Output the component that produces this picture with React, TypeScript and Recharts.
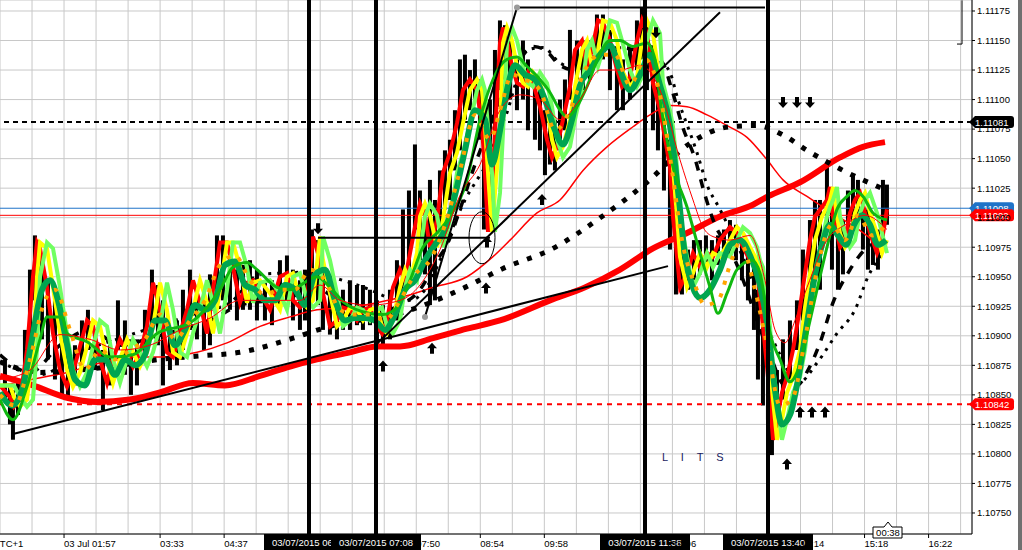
import React from 'react';
import {
  ComposedChart,
  XAxis,
  YAxis,
  CartesianGrid,
  Line,
  Bar,
  ReferenceLine,
  ReferenceDot,
} from 'recharts';

const FONT = '"Liberation Sans", Arial, sans-serif';
const W = 1022;
const H = 550;

// ---- price scale -------------------------------------------------------
const priceMin = 1.107322;
const priceMax = 1.111843;
const priceTicks = [
  1.1075, 1.10775, 1.108, 1.10825, 1.1085, 1.10875, 1.109, 1.10925, 1.1095,
  1.10975, 1.11, 1.11025, 1.1105, 1.11075, 1.111, 1.11125, 1.1115, 1.11175,
];

// ---- bar index scale (one bar per pixel column) ------------------------
const barMin = 0;
const barMax = 972;
const gridStep = 32.02;
const gridCount = 30;
const timeCols = [2, 5, 7, 13, 15, 17, 21, 25, 27, 29];
const timeText = [
  '03 Jul 01:57', '03:33', '04:37', '07:50', '08:54', '09:58', '12:06', '14:14', '15:18', '16:22',
];

// ---- session separators -------------------------------------------------
const sessionBars = [309, 376, 645, 768];
const sessionText = [
  '03/07/2015 06:02', '03/07/2015 07:08', '03/07/2015 11:38', '03/07/2015 13:40',
];

// ---- horizontal levels --------------------------------------------------
const resistance = 1.11081;
const support = 1.10842;
const askPrice = 1.11008;
const bidPrice = 1.11002;

// ---- price bars: [bar, low, high] --------------------------------------
const priceBars: [number, number, number][] = [
  [5, 1.10846, 1.1088], [10, 1.10825, 1.10858], [13, 1.10812, 1.10854], [18, 1.10833, 1.10863],
  [25, 1.10854, 1.10905], [30, 1.10888, 1.10956], [35, 1.1093, 1.10985], [38, 1.10913, 1.10981],
  [42, 1.10897, 1.10964], [48, 1.1088, 1.10947], [55, 1.10863, 1.1093], [62, 1.1085, 1.10897],
  [68, 1.10846, 1.10884], [75, 1.10858, 1.10892], [82, 1.10871, 1.10913], [88, 1.10888, 1.10922],
  [95, 1.10871, 1.10905], [103, 1.10837, 1.10888], [110, 1.10858, 1.10892], [118, 1.10888, 1.1093],
  [125, 1.10867, 1.10913], [131, 1.1085, 1.10897], [137, 1.10858, 1.10897], [145, 1.10884, 1.10922],
  [152, 1.10905, 1.10956], [158, 1.10892, 1.10943], [163, 1.10858, 1.1093], [170, 1.10871, 1.10905],
  [177, 1.10875, 1.10913], [183, 1.10888, 1.10939], [190, 1.10905, 1.10956], [197, 1.10897, 1.10939],
  [204, 1.10888, 1.1093], [210, 1.10892, 1.10952], [217, 1.10939, 1.10985], [223, 1.1093, 1.10985],
  [230, 1.10922, 1.10973], [237, 1.10913, 1.10956], [243, 1.10922, 1.1096], [250, 1.10922, 1.10964],
  [257, 1.10913, 1.10956], [265, 1.10913, 1.10947], [272, 1.10909, 1.10947], [280, 1.10922, 1.10964],
  [287, 1.1093, 1.10968], [293, 1.10913, 1.10956], [300, 1.10905, 1.10947], [305, 1.10913, 1.10956],
  [312, 1.10939, 1.1099], [318, 1.10926, 1.10981], [323, 1.10905, 1.10964], [330, 1.10901, 1.10939],
  [337, 1.10897, 1.1093], [343, 1.10905, 1.10939], [350, 1.10905, 1.10947], [357, 1.10909, 1.10943],
  [363, 1.10905, 1.10943], [370, 1.10909, 1.10939], [377, 1.10892, 1.1093], [383, 1.10892, 1.10926],
  [390, 1.10897, 1.10939], [397, 1.10913, 1.10964], [403, 1.1093, 1.11007], [409, 1.10947, 1.11023],
  [415, 1.1099, 1.11062], [420, 1.10964, 1.11023], [425, 1.10952, 1.11011], [430, 1.10926, 1.11032],
  [435, 1.1093, 1.11015], [440, 1.10981, 1.1104], [445, 1.11007, 1.11057], [450, 1.11015, 1.11066],
  [455, 1.1104, 1.11091], [460, 1.11057, 1.11134], [465, 1.11083, 1.11138], [470, 1.11091, 1.11125],
  [475, 1.111, 1.11134], [480, 1.11066, 1.11117], [484, 1.1099, 1.11091], [490, 1.11015, 1.111],
  [495, 1.11066, 1.11142], [500, 1.11108, 1.11167], [505, 1.11117, 1.11163], [510, 1.111, 1.1115],
  [517, 1.11091, 1.11134], [523, 1.111, 1.1115], [528, 1.11074, 1.11134], [535, 1.11066, 1.11117],
  [540, 1.11057, 1.11108], [545, 1.11036, 1.11091], [550, 1.11045, 1.11083], [555, 1.1104, 1.11083],
  [560, 1.11057, 1.111], [565, 1.11074, 1.11117], [570, 1.111, 1.11159], [577, 1.11117, 1.1115],
  [583, 1.11108, 1.1115], [590, 1.11117, 1.1115], [597, 1.11134, 1.11172], [603, 1.11134, 1.11172],
  [610, 1.11108, 1.11159], [617, 1.11091, 1.11142], [623, 1.11091, 1.11134], [630, 1.111, 1.11142],
  [637, 1.11125, 1.11167], [642, 1.11134, 1.11178], [647, 1.11108, 1.11167], [653, 1.11074, 1.11146],
  [658, 1.11057, 1.11125], [664, 1.11023, 1.111], [670, 1.10973, 1.11066], [676, 1.10935, 1.11015],
  [682, 1.10935, 1.10973], [688, 1.10939, 1.10973], [694, 1.10947, 1.10981], [700, 1.10952, 1.10981],
  [706, 1.10956, 1.10985], [712, 1.10947, 1.10981], [718, 1.1096, 1.10985], [724, 1.10964, 1.1099],
  [730, 1.10968, 1.10998], [736, 1.10964, 1.10994], [742, 1.10947, 1.10981], [748, 1.1093, 1.10973],
  [754, 1.10905, 1.10964], [758, 1.10863, 1.10939], [763, 1.10841, 1.10913], [768, 1.10829, 1.1088],
  [772, 1.10799, 1.10863], [777, 1.10812, 1.10871], [783, 1.10846, 1.10897], [790, 1.10863, 1.10913],
  [797, 1.10888, 1.1093], [803, 1.10913, 1.10973], [810, 1.10939, 1.10998], [815, 1.10947, 1.11015],
  [820, 1.10939, 1.11015], [827, 1.1099, 1.11045], [832, 1.10956, 1.11023], [838, 1.10939, 1.10998],
  [843, 1.10952, 1.10998], [848, 1.10981, 1.11023], [853, 1.1099, 1.11036], [858, 1.10998, 1.11032],
  [863, 1.10973, 1.11015], [868, 1.10956, 1.11007], [873, 1.1096, 1.10998], [878, 1.10956, 1.1099],
  [883, 1.10973, 1.11032], [887, 1.10994, 1.11028],
];

// ---- fast averages (shared bar positions) -------------------------------
const fastX = [
  0, 10, 14, 20, 27, 33, 37, 40, 47, 53, 60, 67, 73, 80, 87, 93, 100, 107, 113, 120,
  127, 133, 140, 147, 153, 160, 167, 173, 180, 187, 193, 200, 207, 213, 220, 227, 233, 240, 247, 253,
  260, 270, 280, 287, 293, 300, 307, 313, 320, 323, 330, 337, 343, 350, 357, 363, 370, 377, 382, 387,
  393, 400, 405, 410, 417, 420, 425, 430, 437, 443, 450, 457, 463, 470, 477, 482, 485, 488, 492, 495,
  500, 503, 507, 512, 517, 523, 528, 533, 540, 547, 552, 557, 563, 570, 575, 582, 587, 592, 598, 603,
  610, 617, 622, 630, 637, 642, 647, 653, 660, 663, 670, 673, 677, 680, 687, 693, 700, 707, 713, 720,
  730, 737, 743, 750, 757, 760, 763, 767, 770, 773, 777, 782, 787, 793, 800, 805, 810, 815, 822, 827,
  830, 833, 837, 840, 845, 850, 855, 860, 865, 870, 877, 882, 887,
];
const redFast = [
  1.10858, 1.10848, 1.1084, 1.10846, 1.10888, 1.1095, 1.10979, 1.10974, 1.10941, 1.10902,
  1.10871, 1.10857, 1.10869, 1.10891, 1.10913, 1.10908, 1.1088, 1.1086, 1.1088, 1.10897,
  1.10886, 1.10874, 1.10886, 1.10908, 1.10945, 1.10922, 1.10886, 1.10882, 1.10902, 1.10922,
  1.10947, 1.10928, 1.10902, 1.10939, 1.10979, 1.10979, 1.10958, 1.10928, 1.10945, 1.10947,
  1.10936, 1.10922, 1.1095, 1.10953, 1.1093, 1.10924, 1.1093, 1.10984, 1.10964, 1.10936,
  1.10908, 1.10913, 1.10924, 1.10922, 1.10913, 1.10922, 1.10924, 1.10908, 1.10902, 1.10913,
  1.10941, 1.10956, 1.10947, 1.1097, 1.11001, 1.11012, 1.11002, 1.10975, 1.10998, 1.11038,
  1.11055, 1.1108, 1.11108, 1.11117, 1.11108, 1.11077, 1.11038, 1.10988, 1.11021, 1.11072,
  1.11148, 1.11161, 1.1115, 1.11128, 1.11114, 1.11111, 1.11123, 1.11114, 1.11094, 1.11066,
  1.11051, 1.1106, 1.11083, 1.11111, 1.11142, 1.1115, 1.11128, 1.11142, 1.11167, 1.11165,
  1.1115, 1.11125, 1.11111, 1.11119, 1.1115, 1.11167, 1.11156, 1.11114, 1.11091, 1.11077,
  1.11043, 1.11001, 1.10967, 1.10941, 1.10953, 1.1097, 1.10958, 1.1097, 1.10967, 1.10981,
  1.10992, 1.10987, 1.10975, 1.10964, 1.10958, 1.1093, 1.10908, 1.10874, 1.10846, 1.10812,
  1.10829, 1.10852, 1.10865, 1.10888, 1.10924, 1.10953, 1.10981, 1.11001, 1.11009, 1.11015,
  1.11026, 1.11001, 1.10987, 1.10975, 1.10981, 1.11004, 1.11015, 1.11021, 1.11004, 1.10987,
  1.1097, 1.10981, 1.11007,
];
const yellowFast = [
  1.10858, 1.10858, 1.10848, 1.1084, 1.10846, 1.10888, 1.1095, 1.10979, 1.10974, 1.10941,
  1.10902, 1.10871, 1.10857, 1.10869, 1.10891, 1.10913, 1.10908, 1.1088, 1.1086, 1.1088,
  1.10897, 1.10886, 1.10874, 1.10886, 1.10908, 1.10945, 1.10922, 1.10886, 1.10882, 1.10902,
  1.10922, 1.10947, 1.10928, 1.10902, 1.10939, 1.10979, 1.10979, 1.10958, 1.10928, 1.10945,
  1.10947, 1.10936, 1.10922, 1.1095, 1.10953, 1.1093, 1.10924, 1.1093, 1.10984, 1.10964,
  1.10936, 1.10908, 1.10913, 1.10924, 1.10922, 1.10913, 1.10922, 1.10924, 1.10908, 1.10902,
  1.10913, 1.10941, 1.10956, 1.10947, 1.1097, 1.11001, 1.11012, 1.11002, 1.10975, 1.10998,
  1.11038, 1.11055, 1.1108, 1.11108, 1.11117, 1.11108, 1.11077, 1.11038, 1.10988, 1.11021,
  1.11072, 1.11148, 1.11161, 1.1115, 1.11128, 1.11114, 1.11111, 1.11123, 1.11114, 1.11094,
  1.11066, 1.11051, 1.1106, 1.11083, 1.11111, 1.11142, 1.1115, 1.11128, 1.11142, 1.11167,
  1.11165, 1.1115, 1.11125, 1.11111, 1.11119, 1.1115, 1.11167, 1.11156, 1.11114, 1.11091,
  1.11077, 1.11043, 1.11001, 1.10967, 1.10941, 1.10953, 1.1097, 1.10958, 1.1097, 1.10967,
  1.10981, 1.10992, 1.10987, 1.10975, 1.10964, 1.10958, 1.1093, 1.10908, 1.10874, 1.10846,
  1.10812, 1.10829, 1.10852, 1.10865, 1.10888, 1.10924, 1.10953, 1.10981, 1.11001, 1.11009,
  1.11015, 1.11026, 1.11001, 1.10987, 1.10975, 1.10981, 1.11004, 1.11015, 1.11021, 1.11004,
  1.10987, 1.1097, 1.10981,
];
const limeFast = [
  1.10858, 1.10858, 1.10858, 1.10848, 1.1084, 1.10846, 1.10888, 1.1095, 1.10979, 1.10974,
  1.10941, 1.10902, 1.10871, 1.10857, 1.10869, 1.10891, 1.10913, 1.10908, 1.1088, 1.1086,
  1.1088, 1.10897, 1.10886, 1.10874, 1.10886, 1.10908, 1.10945, 1.10922, 1.10886, 1.10882,
  1.10902, 1.10922, 1.10947, 1.10928, 1.10902, 1.10939, 1.10979, 1.10979, 1.10958, 1.10928,
  1.10945, 1.10947, 1.10936, 1.10922, 1.1095, 1.10953, 1.1093, 1.10924, 1.1093, 1.10984,
  1.10964, 1.10936, 1.10908, 1.10913, 1.10924, 1.10922, 1.10913, 1.10922, 1.10924, 1.10908,
  1.10902, 1.10913, 1.10941, 1.10956, 1.10947, 1.1097, 1.11001, 1.11012, 1.11002, 1.10975,
  1.10998, 1.11038, 1.11055, 1.1108, 1.11108, 1.11117, 1.11108, 1.11077, 1.11038, 1.10988,
  1.11021, 1.11072, 1.11148, 1.11161, 1.1115, 1.11128, 1.11114, 1.11111, 1.11123, 1.11114,
  1.11094, 1.11066, 1.11051, 1.1106, 1.11083, 1.11111, 1.11142, 1.1115, 1.11128, 1.11142,
  1.11167, 1.11165, 1.1115, 1.11125, 1.11111, 1.11119, 1.1115, 1.11167, 1.11156, 1.11114,
  1.11091, 1.11077, 1.11043, 1.11001, 1.10967, 1.10941, 1.10953, 1.1097, 1.10958, 1.1097,
  1.10967, 1.10981, 1.10992, 1.10987, 1.10975, 1.10964, 1.10958, 1.1093, 1.10908, 1.10874,
  1.10846, 1.10812, 1.10829, 1.10852, 1.10865, 1.10888, 1.10924, 1.10953, 1.10981, 1.11001,
  1.11009, 1.11015, 1.11026, 1.11001, 1.10987, 1.10975, 1.10981, 1.11004, 1.11015, 1.11021,
  1.11004, 1.10987, 1.1097,
];

// ---- slower averages: [bar, price] --------------------------------------
const tealMa: [number, number][] = [
  [0, 1.10852], [12, 1.10841], [22, 1.10854], [32, 1.10897], [42, 1.10939], [50, 1.10947],
  [58, 1.1093], [66, 1.10897], [75, 1.10863], [85, 1.10858], [95, 1.1088], [105, 1.1088],
  [115, 1.10867], [125, 1.1088], [135, 1.10875], [145, 1.10884], [155, 1.10913], [165, 1.10913],
  [175, 1.10892], [185, 1.10905], [195, 1.10926], [205, 1.10922], [215, 1.1093], [225, 1.1096],
  [235, 1.10963], [245, 1.10943], [255, 1.10939], [265, 1.1093], [275, 1.1093], [285, 1.10943],
  [295, 1.10939], [305, 1.10926], [315, 1.10952], [325, 1.10956], [335, 1.1093], [345, 1.10913],
  [355, 1.10915], [365, 1.10915], [375, 1.10913], [385, 1.10905], [395, 1.10918], [405, 1.10939],
  [415, 1.10947], [425, 1.10964], [435, 1.10977], [445, 1.1099], [455, 1.11019], [465, 1.11057],
  [475, 1.11091], [485, 1.11083], [492, 1.11045], [500, 1.11074], [508, 1.11112], [515, 1.11129],
  [525, 1.11121], [535, 1.11117], [545, 1.111], [555, 1.11074], [563, 1.11062], [572, 1.11083],
  [580, 1.11112], [590, 1.11125], [600, 1.11138], [610, 1.11146], [620, 1.11125], [630, 1.11108],
  [640, 1.11121], [650, 1.11138], [660, 1.11112], [670, 1.11078], [678, 1.11023], [685, 1.10968],
  [692, 1.10943], [700, 1.10932], [710, 1.10939], [720, 1.10956], [730, 1.10977], [740, 1.10981],
  [750, 1.10968], [760, 1.10943], [768, 1.10905], [775, 1.10854], [782, 1.10825], [790, 1.10833],
  [798, 1.10863], [806, 1.10905], [814, 1.10947], [822, 1.10977], [830, 1.10994], [838, 1.10985],
  [846, 1.10977], [854, 1.10994], [862, 1.11002], [870, 1.10994], [878, 1.10977], [886, 1.10981],
];
const greenMa: [number, number][] = [
  [0, 1.10846], [13, 1.10829], [27, 1.10857], [40, 1.10897], [47, 1.10916], [62, 1.10916],
  [67, 1.10902], [87, 1.10895], [110, 1.10882], [133, 1.10884], [157, 1.10902], [190, 1.10911],
  [207, 1.10924], [220, 1.10939], [233, 1.10958], [247, 1.10962], [257, 1.10956], [277, 1.10941],
  [290, 1.10939], [317, 1.1095], [330, 1.10941], [343, 1.10929], [370, 1.10919], [383, 1.10918],
  [397, 1.10924], [410, 1.10947], [423, 1.10975], [437, 1.10987], [450, 1.11001], [467, 1.11032],
  [480, 1.11083], [493, 1.11117], [507, 1.11134], [517, 1.11136], [527, 1.11128], [540, 1.11117],
  [550, 1.11106], [560, 1.11091], [567, 1.11085], [577, 1.11094], [587, 1.11111], [600, 1.11139],
  [610, 1.1115], [620, 1.1115], [633, 1.11145], [647, 1.11148], [655, 1.11134], [660, 1.111],
  [673, 1.11043], [687, 1.11009], [700, 1.1097], [710, 1.10941], [718, 1.10919], [727, 1.10936],
  [737, 1.10956], [752, 1.10964], [760, 1.10953], [770, 1.10902], [780, 1.1088], [790, 1.10861],
  [797, 1.10869], [807, 1.10902], [817, 1.10939], [827, 1.10975], [837, 1.11007], [847, 1.11018],
  [855, 1.11023], [863, 1.11018], [873, 1.11004], [887, 1.10998],
];
const orangeMa: [number, number][] = [
  [0, 1.1085], [15, 1.10841], [30, 1.1088], [45, 1.1093], [55, 1.10939], [70, 1.10905],
  [85, 1.10871], [100, 1.10888], [115, 1.1088], [130, 1.10888], [145, 1.10897], [160, 1.10918],
  [175, 1.10897], [190, 1.10913], [205, 1.1093], [220, 1.1096], [235, 1.10968], [250, 1.10947],
  [265, 1.10935], [280, 1.10939], [295, 1.10939], [310, 1.10956], [325, 1.10947], [340, 1.10922],
  [355, 1.10918], [370, 1.10918], [385, 1.10913], [400, 1.1093], [415, 1.10952], [430, 1.10964],
  [445, 1.10994], [460, 1.1104], [475, 1.11087], [490, 1.11066], [500, 1.11091], [512, 1.11121],
  [525, 1.11117], [540, 1.11108], [555, 1.11074], [570, 1.11091], [585, 1.11125], [600, 1.11138],
  [615, 1.11138], [630, 1.11112], [645, 1.11134], [660, 1.11104], [672, 1.1104], [682, 1.10981],
  [695, 1.10943], [705, 1.10926], [718, 1.1093], [730, 1.1096], [740, 1.10979], [755, 1.10939],
  [768, 1.10888], [780, 1.10841], [792, 1.10846], [805, 1.10897], [818, 1.1096], [832, 1.10994],
  [845, 1.10981], [858, 1.11002], [872, 1.10985], [886, 1.10994],
];
const redSlow: [number, number][] = [
  [0, 1.10866], [33, 1.10858], [65, 1.10848], [97, 1.10844], [130, 1.10846], [160, 1.10852],
  [193, 1.1086], [225, 1.10858], [260, 1.10866], [290, 1.10874], [317, 1.1088], [350, 1.10886],
  [377, 1.10891], [400, 1.10891], [433, 1.10898], [467, 1.10906], [500, 1.10913], [550, 1.1093],
  [585, 1.10941], [620, 1.10956], [653, 1.10974], [687, 1.10987], [720, 1.11001], [753, 1.11011],
  [768, 1.11018], [800, 1.1103], [840, 1.11051], [863, 1.1106], [885, 1.11064],
];
const redMedium: [number, number][] = [
  [0, 1.10858], [20, 1.10861], [43, 1.10865], [67, 1.10869], [100, 1.10877], [130, 1.10882],
  [160, 1.10882], [197, 1.10886], [227, 1.10894], [260, 1.10908], [290, 1.10916], [317, 1.10922],
  [350, 1.10924], [377, 1.10928], [403, 1.10933], [433, 1.10941], [467, 1.1095], [493, 1.10967],
  [510, 1.10981], [537, 1.11004], [560, 1.11015], [583, 1.1104], [607, 1.1106], [633, 1.11077],
  [650, 1.11087], [670, 1.11095], [687, 1.11094], [707, 1.11087], [727, 1.11078], [747, 1.11068],
  [767, 1.11049], [783, 1.11032], [807, 1.11018], [823, 1.11009], [840, 1.11], [857, 1.10991],
  [887, 1.10971],
];
const redQuick: [number, number][] = [
  [0, 1.10863], [30, 1.10871], [60, 1.10901], [90, 1.10897], [120, 1.10888], [150, 1.10892],
  [180, 1.10905], [210, 1.10915], [240, 1.1093], [270, 1.1093], [300, 1.1093], [320, 1.10943],
  [340, 1.1093], [370, 1.10926], [400, 1.1093], [420, 1.10943], [440, 1.10973], [460, 1.11019],
  [480, 1.11045], [500, 1.11091], [520, 1.11104], [540, 1.111], [560, 1.11083], [580, 1.111],
  [600, 1.11125], [620, 1.11125], [640, 1.11129], [660, 1.11108], [680, 1.11049], [693, 1.11015],
  [703, 1.10992], [713, 1.10984], [730, 1.10981], [750, 1.10985], [765, 1.10947], [775, 1.10905],
  [785, 1.10894], [795, 1.10913], [807, 1.10941], [827, 1.10981], [845, 1.10994], [865, 1.11002],
  [887, 1.1099],
];

// ---- black dotted averages ----------------------------------------------
const blackSlowDots: [number, number][] = [
  [0, 1.10878], [40, 1.10869], [80, 1.10871], [120, 1.10875], [160, 1.1088], [200, 1.10883],
  [240, 1.10886], [293, 1.10898], [318, 1.10905], [350, 1.10912], [380, 1.10915], [400, 1.10919],
  [430, 1.10928], [465, 1.10941], [503, 1.10957], [553, 1.10974], [602, 1.11001], [647, 1.1103],
  [690, 1.11063], [730, 1.11077], [757, 1.11078], [783, 1.1107], [807, 1.11057], [843, 1.1104],
  [887, 1.11023],
];
const blackMidDots: [number, number][] = [
  [0, 1.10878], [40, 1.10867], [80, 1.10886], [120, 1.10898], [160, 1.10909], [200, 1.1092],
  [230, 1.10928], [260, 1.10952], [280, 1.10953], [310, 1.10954], [330, 1.1095], [350, 1.10945],
  [370, 1.10939], [390, 1.10932], [410, 1.1093], [425, 1.10939], [440, 1.10964], [455, 1.10996],
  [465, 1.11015], [477, 1.11032], [487, 1.11046], [498, 1.11072], [507, 1.11089], [515, 1.11112],
  [527, 1.11142], [543, 1.11144], [560, 1.11131], [575, 1.11127], [590, 1.11132], [607, 1.11142],
  [625, 1.11144], [647, 1.11136], [660, 1.11132], [670, 1.11123], [678, 1.111], [690, 1.11072],
  [697, 1.11055], [707, 1.11028], [720, 1.11007], [735, 1.10981], [750, 1.10952], [765, 1.10913],
  [780, 1.10884], [798, 1.1086], [817, 1.10877], [837, 1.10902], [855, 1.10922], [868, 1.1095],
  [885, 1.10973],
];
const blackDashed: [number, number][] = [
  [0, 1.10884], [30, 1.10869], [60, 1.10892], [90, 1.10905], [120, 1.10892], [150, 1.10898],
  [180, 1.10905], [210, 1.10913], [240, 1.10926], [270, 1.1093], [300, 1.10935], [320, 1.10939],
  [340, 1.10928], [360, 1.10922], [380, 1.1092], [400, 1.10926], [420, 1.10939], [437, 1.10964],
  [447, 1.10977], [460, 1.11007], [475, 1.11045], [490, 1.11078], [505, 1.11112], [520, 1.11134],
  [533, 1.11145], [545, 1.11142], [560, 1.11129], [575, 1.11125], [590, 1.11134], [605, 1.11142],
  [620, 1.11144], [635, 1.11142], [650, 1.11138], [662, 1.11132], [672, 1.11108], [683, 1.11076],
  [695, 1.1105], [705, 1.11019], [715, 1.10994], [730, 1.10973], [745, 1.10943], [757, 1.10913],
  [770, 1.10884], [785, 1.10858], [797, 1.10858], [808, 1.10871], [820, 1.10894], [833, 1.10928],
  [850, 1.10956], [865, 1.10973], [885, 1.10981],
];

// ---- drawn objects --------------------------------------------------------
const trendLines: [number, number, number, number][] = [
  [14, 1.10817, 668, 1.10959],
  [378, 1.10894, 720, 1.11174],
  [425, 1.10916, 517, 1.11178],
  [517, 1.11178, 765, 1.11178],
  [318, 1.10983, 490, 1.10983],
];
const bracketLines: [number, number, number, number][] = [
  [962, 1.11184, 962, 1.11147],
  [957, 1.11147, 962, 1.11147],
];
const pivotDots: [number, number][] = [[425, 1.10916], [517, 1.11178]];
const downArrows: [number, number][] = [
  [318, 1.10991], [656, 1.11157], [783, 1.11098], [797, 1.11098], [810, 1.11098],
];
const upArrows: [number, number][] = [
  [383, 1.10874], [432, 1.10889], [486, 1.1094], [487, 1.10979], [542, 1.11015],
  [800, 1.10835], [812, 1.10835], [825, 1.10835], [787, 1.10791],
];
const ellipseCentre: [number, number] = [482, 1.10983];
const noteText = 'L I T S';
const notePos: [number, number] = [662, 1.10797];
const countdownText = '00:38';
const countdownBar = 888;
const timezoneText = 'UTC+1';

const levelTags: [number, string][] = [
  [resistance, '#000000'],
  [askPrice, '#1e73c8'],
  [bidPrice, '#ff0000'],
  [support, '#ff0000'],
];

// ---- table builders -------------------------------------------------------
const barData = priceBars.map(([x, lo, hi]) => ({ x, range: [lo, hi] }));
const fromShared = (vals: number[]) => fastX.map((x, i) => ({ x, v: vals[i] }));
const fromPairs = (arr: [number, number][]) => arr.map(([x, v]) => ({ x, v }));
const gridTicks = Array.from({ length: gridCount }, (_, i) => (i + 1) * gridStep);

// ---- small shapes ---------------------------------------------------------
function TimeTick(props: any) {
  const { x, y, payload } = props;
  const col = Math.round(payload.value / gridStep);
  const i = timeCols.indexOf(col);
  if (i < 0) return <g />;
  return (
    <g>
      <line x1={x} y1={y} x2={x} y2={y + 4} stroke="#000" />
      <text x={x} y={y + 13} fontSize={9.5} fontFamily={FONT} fill="#000">
        {timeText[i]}
      </text>
    </g>
  );
}

// one price bar, drawn as a narrow black stem centred on its bar index
function Stem(props: any) {
  const { x, y, width, height } = props;
  if (height == null || !isFinite(height)) return <g />;
  const cx = x + width / 2;
  return <rect x={cx - 2} y={y} width={4} height={Math.max(height, 1)} fill="#000" />;
}

function ArrowMark({ cx, cy, up }: any) {
  const s = up ? -1 : 1;
  const d = `M${cx},${cy + s * 6} L${cx - 5},${cy + s * 0.5} L${cx - 2},${cy + s * 0.5} L${cx - 2},${cy - s * 5} L${cx + 2},${cy - s * 5} L${cx + 2},${cy + s * 0.5} L${cx + 5},${cy + s * 0.5} Z`;
  return <path d={d} fill="#000" />;
}

function PriceTag({ cx, cy, fill, text }: any) {
  const d = `M${cx - 3},${cy} L${cx + 3},${cy - 6} H${cx + 39} Q${cx + 42},${cy - 6} ${cx + 42},${cy - 3} V${cy + 3} Q${cx + 42},${cy + 6} ${cx + 39},${cy + 6} H${cx + 3} Z`;
  return (
    <g>
      <path d={d} fill={fill} />
      <text x={cx + 3} y={cy + 3.5} fill="#fff" fontSize={9.5} fontFamily={FONT}>
        {text}
      </text>
    </g>
  );
}

function SessionBox({ cx, cy, text }: any) {
  return (
    <g>
      <rect x={cx - 45} y={cy} width={90} height={16} fill="#000" />
      <text x={cx} y={cy + 12} textAnchor="middle" fill="#fff" fontSize={9.5} fontFamily={FONT}>
        {text}
      </text>
    </g>
  );
}

function CountdownBox({ cx, cy, text }: any) {
  const d = `M${cx - 15},${cy - 7} H${cx - 4} L${cx},${cy - 12} L${cx + 4},${cy - 7} H${cx + 14} V${cy + 4} H${cx - 15} Z`;
  return (
    <g>
      <path d={d} fill="#fff" stroke="#000" strokeWidth={1} />
      <text x={cx} y={cy + 2} textAnchor="middle" fill="#000" fontSize={9.5} fontFamily={FONT}>
        {text}
      </text>
    </g>
  );
}

const lineBase = { dot: false, activeDot: false, isAnimationActive: false, legendType: 'none' as const };

export default function App() {
  return (
    <div style={{ position: 'absolute', left: 0, top: 0, width: W, height: H, background: '#fff', overflow: 'hidden' }}>
      <ComposedChart width={W} height={H} data={barData} margin={{ top: 0, right: 0, bottom: 0, left: 0 }}>
        <CartesianGrid stroke="#c8c8c8" strokeWidth={1} />
        <XAxis
          type="number"
          dataKey="x"
          domain={[barMin, barMax]}
          ticks={gridTicks}
          interval={0}
          allowDataOverflow
          height={16}
          axisLine={{ stroke: '#000' }}
          tickLine={false}
          tickSize={0}
          tickMargin={0}
          tick={<TimeTick />}
        />
        <YAxis
          orientation="right"
          type="number"
          domain={[priceMin, priceMax]}
          ticks={priceTicks}
          interval={0}
          allowDataOverflow
          width={50}
          axisLine={{ stroke: '#000' }}
          tickLine={{ stroke: '#000' }}
          tickSize={3}
          tickMargin={2}
          tick={{ fill: '#000', fontSize: 9.5, fontFamily: FONT }}
          tickFormatter={(v: number) => v.toFixed(5)}
        />

        <ReferenceLine y={askPrice} stroke="#1e73c8" strokeWidth={1} />
        <ReferenceLine y={bidPrice} stroke="#ff0000" strokeWidth={1} />
        <ReferenceLine y={resistance} stroke="#000" strokeWidth={2} strokeDasharray="5 4" />
        <ReferenceLine y={support} stroke="#ff0000" strokeWidth={2} strokeDasharray="5 5" />

        <Bar dataKey="range" fill="#000" barSize={4} isAnimationActive={false} shape={<Stem />} />

        <Line data={fromPairs(redSlow)} dataKey="v" type="monotone" stroke="#ff0000" strokeWidth={6} {...lineBase} />
        <Line data={fromPairs(redMedium)} dataKey="v" type="monotone" stroke="#ff0000" strokeWidth={1.5} {...lineBase} />
        <Line data={fromPairs(blackSlowDots)} dataKey="v" type="monotone" stroke="#000" strokeWidth={5} strokeDasharray="5 9" {...lineBase} />
        <Line data={fromPairs(blackMidDots)} dataKey="v" type="monotone" stroke="#000" strokeWidth={3} strokeDasharray="3 6" {...lineBase} />
        <Line data={fromPairs(blackDashed)} dataKey="v" type="monotone" stroke="#000" strokeWidth={3.5} strokeDasharray="9 9" {...lineBase} />
        <Line data={fromShared(redFast)} dataKey="v" type="linear" stroke="#ff0000" strokeWidth={4} {...lineBase} />
        <Line data={fromShared(yellowFast)} dataKey="v" type="linear" stroke="#ffff00" strokeWidth={4} {...lineBase} />
        <Line data={fromShared(limeFast)} dataKey="v" type="linear" stroke="#70ff60" strokeWidth={4} {...lineBase} />
        <Line data={fromPairs(tealMa)} dataKey="v" type="monotone" stroke="#00a550" strokeWidth={6} {...lineBase} />
        <Line data={fromPairs(greenMa)} dataKey="v" type="monotone" stroke="#10b810" strokeWidth={3} {...lineBase} />
        <Line data={fromPairs(redQuick)} dataKey="v" type="monotone" stroke="#ff0000" strokeWidth={1} {...lineBase} />
        <Line data={fromPairs(orangeMa)} dataKey="v" type="monotone" stroke="#ffa500" strokeWidth={4} strokeDasharray="4 9" {...lineBase} />

        {sessionBars.map((x) => (
          <ReferenceLine key={`s${x}`} x={x} stroke="#000" strokeWidth={4} />
        ))}
        {trendLines.map(([x1, y1, x2, y2], i) => (
          <ReferenceLine
            key={`t${i}`}
            segment={[{ x: x1, y: y1 }, { x: x2, y: y2 }]}
            stroke="#000"
            strokeWidth={2}
            ifOverflow="visible"
          />
        ))}
        {bracketLines.map(([x1, y1, x2, y2], i) => (
          <ReferenceLine
            key={`b${i}`}
            segment={[{ x: x1, y: y1 }, { x: x2, y: y2 }]}
            stroke="#000"
            strokeWidth={1}
            ifOverflow="visible"
          />
        ))}

        <ReferenceDot
          x={ellipseCentre[0]}
          y={ellipseCentre[1]}
          r={0}
          ifOverflow="visible"
          shape={(p: any) => <ellipse cx={p.cx} cy={p.cy} rx={13} ry={26} fill="none" stroke="#000" strokeWidth={1} />}
        />
        {pivotDots.map(([x, y], i) => (
          <ReferenceDot key={`p${i}`} x={x} y={y} r={3} fill="#9a9a9a" stroke="none" ifOverflow="visible" />
        ))}
        {downArrows.map(([x, y], i) => (
          <ReferenceDot key={`d${i}`} x={x} y={y} r={0} ifOverflow="visible" shape={(p: any) => <ArrowMark cx={p.cx} cy={p.cy} up={false} />} />
        ))}
        {upArrows.map(([x, y], i) => (
          <ReferenceDot key={`u${i}`} x={x} y={y} r={0} ifOverflow="visible" shape={(p: any) => <ArrowMark cx={p.cx} cy={p.cy} up />} />
        ))}
        <ReferenceDot
          x={notePos[0]}
          y={notePos[1]}
          r={0}
          ifOverflow="visible"
          shape={(p: any) => (
            <text x={p.cx} y={p.cy + 4} fill="#1a1a5e" fontSize={11} letterSpacing={5} fontFamily={FONT}>
              {noteText}
            </text>
          )}
        />

        {levelTags.map(([lvl, col], i) => (
          <ReferenceDot
            key={`lt${i}`}
            x={barMax}
            y={lvl}
            r={0}
            ifOverflow="visible"
            shape={(p: any) => <PriceTag cx={p.cx} cy={p.cy} fill={col} text={lvl.toFixed(5)} />}
          />
        ))}
        {sessionBars.map((x, i) => (
          <ReferenceDot
            key={`sb${i}`}
            x={x}
            y={priceMin}
            r={0}
            ifOverflow="visible"
            shape={(p: any) => <SessionBox cx={p.cx} cy={p.cy} text={sessionText[i]} />}
          />
        ))}
        <ReferenceDot
          x={countdownBar}
          y={priceMin}
          r={0}
          ifOverflow="visible"
          shape={(p: any) => <CountdownBox cx={p.cx} cy={p.cy} text={countdownText} />}
        />
        <ReferenceDot
          x={barMin}
          y={priceMin}
          r={0}
          ifOverflow="visible"
          shape={(p: any) => (
            <text x={p.cx - 7} y={p.cy + 13} fill="#000" fontSize={9.5} fontFamily={FONT}>
              {timezoneText}
            </text>
          )}
        />
      </ComposedChart>
      <div style={{ position: 'absolute', left: 1018, top: 0, width: 4, height: H, background: '#707070' }} />
    </div>
  );
}
